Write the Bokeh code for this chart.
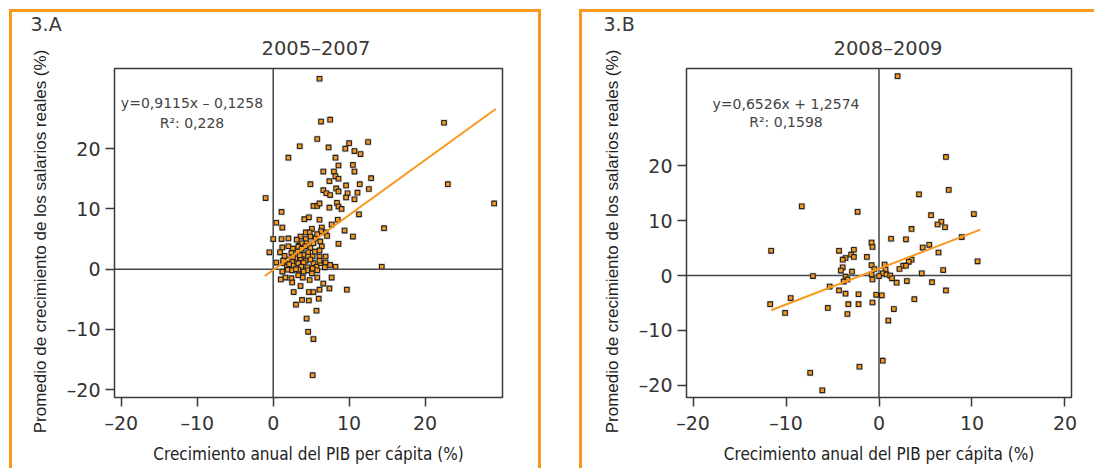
from bokeh.plotting import figure
from bokeh.layouts import row
from bokeh.models import FixedTicker, Span, Label, Title
from bokeh.embed import file_html
from bokeh.resources import INLINE

# ---------------- data ----------------
ticks = [-20, -10, 0, 10, 20]
tick_labels = {-20: "\u201320", -10: "\u201310", 0: "0", 10: "10", 20: "20"}

panel_A_tag = "3.A"
panel_A_title = "2005\u20132007"
slope_A, intercept_A = 0.9115, -0.1258
fit_A_x = [-1.1, 29.3]
eq_A = "y=0,9115x \u2013 0,1258"
r2_A = "R\u00b2: 0,228"
points_A = [
    (6.1, 31.6), (6.3, 24.5), (7.5, 24.8), (22.5, 24.3), (5.8, 21.6), (3.5, 20.4), (7.3, 20.2),
    (10.0, 20.9), (12.5, 21.1), (9.5, 20.0), (10.7, 19.6), (11.5, 19.1), (2.0, 18.5), (8.2, 18.5),
    (8.6, 17.2), (10.5, 17.3), (10.7, 16.2), (6.6, 16.2), (8.0, 16.2), (8.2, 15.4), (8.6, 15.0),
    (7.4, 14.6), (12.9, 15.1), (4.9, 14.1), (23.0, 14.1), (9.6, 13.9), (11.4, 14.1), (8.3, 13.4),
    (8.6, 12.9), (12.6, 13.3), (6.6, 13.1), (7.0, 12.6), (7.5, 12.3), (9.8, 12.6), (11.1, 12.7),
    (9.6, 11.9), (10.7, 11.6), (-1.0, 11.8), (29.1, 10.9), (5.3, 10.5), (5.8, 10.5), (6.1, 10.9),
    (7.4, 10.2), (8.4, 11.0), (8.6, 10.4), (9.0, 10.0), (1.1, 9.5), (11.3, 9.1), (4.1, 8.3),
    (4.7, 8.6), (6.1, 8.2), (0.4, 7.7), (7.7, 7.4), (8.5, 8.2), (1.2, 6.9), (14.6, 6.8), (6.4, 6.9),
    (5.1, 6.7), (9.4, 6.4), (4.3, 6.1), (4.8, 6.1), (6.9, 6.1), (6.3, 6.3), (10.5, 5.4), (0.0, 5.0),
    (1.1, 5.0), (2.0, 5.1), (3.6, 5.4), (4.3, 5.0), (5.6, 5.2), (5.8, 5.8), (8.6, 4.2), (2.0, 3.8),
    (1.2, 3.6), (2.6, 3.4), (3.4, 3.9), (3.8, 4.3), (4.4, 4.3), (5.3, 4.3), (6.4, 3.8), (4.9, 3.5),
    (-0.5, 2.8), (0.9, 2.8), (1.5, 2.2), (2.4, 2.7), (3.2, 2.9), (4.0, 2.4), (4.6, 2.8), (5.5, 2.9),
    (6.1, 3.1), (5.2, 2.1), (6.1, 2.1), (6.9, 2.1), (2.1, 1.6), (2.9, 1.8), (3.6, 1.8), (4.3, 1.4),
    (0.4, 1.1), (1.3, 1.0), (2.5, 1.2), (3.3, 1.0), (4.0, 1.1), (5.3, 1.0), (6.2, 1.0), (6.9, 1.1),
    (7.5, 0.7), (8.2, 0.4), (14.3, 0.4), (1.8, 0.4), (2.6, 0.6), (3.7, 0.4), (4.5, 0.3), (5.7, 0.4),
    (6.8, 0.3), (1.2, -0.4), (1.9, -0.1), (2.5, -0.2), (3.3, -0.1), (4.5, -0.2), (5.1, -0.7),
    (1.6, -1.4), (1.0, -1.7), (2.4, -1.5), (3.3, -1.0), (3.9, -1.4), (4.8, -1.8), (5.8, -1.4),
    (7.7, -1.4), (2.5, -2.2), (6.6, -2.4), (3.6, -2.8), (6.1, -3.4), (7.4, -3.2), (9.7, -3.4),
    (2.7, -3.8), (4.7, -3.8), (5.3, -3.8), (6.0, -4.9), (3.8, -5.1), (4.7, -5.2), (3.0, -5.9),
    (5.7, -6.9), (4.4, -8.2), (4.6, -10.4), (5.3, -11.6), (5.2, -17.6),
    (4.9, 5.4), (3.1, 4.9), (7.1, 5.5), (6.2, 4.6), (3.3, 3.7), (4.2, 3.8), (3.75, 3.4), (2.6, 2.0),
    (3.5, 2.3), (4.6, 2.1), (1.3, 1.4), (4.9, 1.6), (6.1, 1.4), (2.1, 0.8), (5.2, 0.1), (3.0, 0.0),
    (4.0, -0.4), (5.8, -0.2),
]

panel_B_tag = "3.B"
panel_B_title = "2008\u20132009"
slope_B, intercept_B = 0.6526, 1.2574
fit_B_x = [-11.6, 10.9]
eq_B = "y=0,6526x + 1,2574"
r2_B = "R\u00b2: 0,1598"
points_B = [
    (2.0, 36.3), (7.2, 21.6), (7.5, 15.6), (4.3, 14.8), (-8.3, 12.6), (-2.3, 11.6), (5.6, 11.0),
    (10.2, 11.2), (6.7, 9.8), (6.3, 9.3), (7.1, 8.8), (3.5, 8.5), (8.9, 7.0), (1.3, 6.7), (2.9, 6.6),
    (-0.8, 6.0), (-0.7, 5.2), (5.4, 5.6), (4.7, 5.1), (-11.6, 4.5), (-4.3, 4.5), (-2.7, 4.7),
    (-3.0, 3.8), (-3.6, 3.2), (-3.9, 2.9), (-2.7, 3.4), (-1.3, 3.4), (6.4, 4.2), (3.5, 2.9),
    (3.2, 2.5), (10.6, 2.6), (2.6, 1.8), (2.9, 1.8), (0.6, 2.0), (-0.8, 1.9), (-3.9, 1.5),
    (-0.5, 1.2), (0.7, 1.1), (2.2, 1.2), (6.9, 1.0), (-4.1, 0.9), (-2.9, 0.7), (4.6, 0.4), (0.4, 0.4),
    (0.8, 0.2), (1.2, 0.0), (0.0, -0.1), (-0.8, 0.2), (-7.1, -0.1), (-3.6, -0.2), (1.4, -0.5),
    (-0.7, -0.7), (-3.4, -0.7), (-3.8, -1.1), (1.9, -1.3), (3.0, -1.0), (5.7, -1.2), (-5.3, -2.0),
    (-4.3, -2.7), (7.2, -2.7), (-3.6, -3.3), (-2.2, -3.4), (-0.3, -3.5), (0.3, -3.6), (-9.5, -4.1),
    (3.8, -4.3), (-0.7, -4.9), (-11.7, -5.2), (-3.3, -5.2), (-2.2, -5.2), (-5.5, -5.9), (1.6, -6.1),
    (-10.1, -6.8), (-3.4, -7.0), (1.0, -8.2), (0.4, -15.5), (-2.1, -16.6), (-7.4, -17.7),
    (-6.1, -20.9),
]

x_title = "Crecimiento anual del PIB per c\u00e1pita (%)"
y_title = "Promedio de crecimiento de los salarios reales (%)"

# ---------------- style ----------------
ORANGE = "#F7991F"
TXT = "#333333"
NUM_FONT = "DejaVu Sans"
NARROW = "DejaVu Sans Condensed, Liberation Sans Narrow, Arial Narrow, sans-serif"


def make_panel(points, tag, title, slope, intercept, fit_x, eq, r2, eq_pos,
               xr, yr, width, height, mb, margin, borders, title_dx, tag_dx):
    p = figure(width=width, height=height, x_range=xr, y_range=yr,
               output_backend="svg", toolbar_location=None,
               min_border_left=mb[0], min_border_right=mb[1],
               min_border_top=mb[2], min_border_bottom=mb[3],
               margin=margin, styles=borders)
    p.background_fill_color = "white"
    p.border_fill_color = "white"
    p.xgrid.visible = False
    p.ygrid.visible = False
    p.outline_line_color = "#3a3a3a"
    p.outline_line_width = 1.5
    p.outline_line_alpha = 1.0
    for ax in (p.xaxis[0], p.yaxis[0]):
        ax.ticker = FixedTicker(ticks=ticks)
        ax.major_label_overrides = dict(tick_labels)
        ax.axis_line_color = None
        ax.major_tick_line_color = "#3a3a3a"
        ax.major_tick_line_width = 1.5
        ax.major_tick_in = 0
        ax.major_tick_out = 9
        ax.minor_tick_line_color = None
        ax.major_label_text_font = NUM_FONT
        ax.major_label_text_font_size = "19px"
        ax.major_label_text_color = TXT
        ax.major_label_standoff = 5

    p.xaxis.axis_label = x_title
    p.xaxis.axis_label_text_font = NARROW
    p.xaxis.axis_label_text_font_size = "17px"
    p.xaxis.axis_label_text_font_style = "normal"
    p.xaxis.axis_label_text_color = "#222222"
    p.xaxis.axis_label_standoff = 7

    # two en spaces at the end push the visible text slightly down, as in the original
    p.yaxis.axis_label = y_title + "\u2002\u2002"
    p.yaxis.axis_label_text_font = "Liberation Sans"
    p.yaxis.axis_label_text_font_size = "17px"
    p.yaxis.axis_label_text_font_style = "normal"
    p.yaxis.axis_label_text_color = "#222222"
    p.yaxis.axis_label_standoff = 14

    # titles: first added is the one next to the frame
    p.add_layout(Title(text=title, align="left", offset=title_dx, standoff=18,
                       text_font=NUM_FONT, text_font_size="19.5px",
                       text_font_style="normal", text_color="#3a3a3a"), "above")
    p.add_layout(Title(text=tag, align="left", offset=tag_dx, standoff=-19,
                       text_font=NUM_FONT, text_font_size="19px",
                       text_font_style="normal", text_color="#3a3a3a"), "above")

    p.add_layout(Span(location=0, dimension="height", line_color="#444444",
                      line_width=1.5, level="underlay"))
    p.add_layout(Span(location=0, dimension="width", line_color="#444444",
                      line_width=1.5, level="underlay"))

    xs = [pt[0] for pt in points]
    ys = [pt[1] for pt in points]
    p.scatter(xs, ys, marker="square", size=7, fill_color="#a0a0a0",
              fill_alpha=0.45, line_color=None)
    p.scatter(xs, ys, marker="square", size=4.6, fill_color=ORANGE,
              line_color="#222222", line_width=1.1)

    fy = [slope * x + intercept for x in fit_x]
    p.line(fit_x, fy, line_color=ORANGE, line_width=2)

    p.add_layout(Label(x=eq_pos[0], y=eq_pos[1], text=eq, text_align="center",
                       text_baseline="alphabetic", text_font=NUM_FONT,
                       text_font_size="14px", text_color="#444444"))
    p.add_layout(Label(x=eq_pos[0], y=eq_pos[2], text=r2, text_align="center",
                       text_baseline="alphabetic", text_font=NUM_FONT,
                       text_font_size="14px", text_color="#444444"))
    return p


border_A = {"box-sizing": "content-box",
            "border-left": f"3px solid {ORANGE}", "border-top": f"3px solid {ORANGE}",
            "border-right": f"3px solid {ORANGE}"}
border_B = {"box-sizing": "content-box",
            "border-left": f"3px solid {ORANGE}", "border-top": f"3px solid {ORANGE}"}

pA = make_panel(points_A, panel_A_tag, panel_A_title, slope_A, intercept_A, fit_A_x,
                eq_A, r2_A, (-10.7, 27.55, 24.3), (-20.9, 30.2), (-21.3, 33.3),
                526, 456, (102, 42, 54, 74), (9, 0, 0, 9), border_A, 147, -84)
pB = make_panel(points_B, panel_B_tag, panel_B_title, slope_B, intercept_B, fit_B_x,
                eq_B, r2_B, (-10.0, 31.3, 27.9), (-20.7, 20.7), (-22.2, 37.7),
                512, 456, (104, 26, 56, 73), (9, 0, 0, 38), border_B, 147, -83)

layout = row(pA, pB)
open("out.html", "w").write(file_html(layout, INLINE))
